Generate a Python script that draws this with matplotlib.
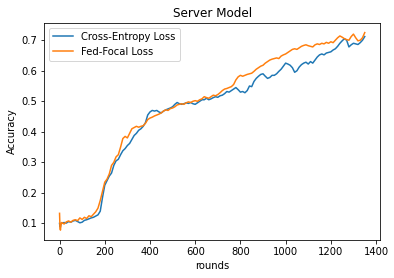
import matplotlib
matplotlib.use("Agg")
import matplotlib.pyplot as plt

rounds = [0, 2, 4, 6, 8] + list(range(10, 1351, 10))

cross_entropy = [
    0.100, 0.090, 0.088, 0.098, 0.102,
    0.100, 0.103, 0.101, 0.106, 0.104, 0.108, 0.110, 0.106, 0.102, 0.104,
    0.110, 0.112, 0.115, 0.118, 0.120, 0.124, 0.128, 0.140, 0.185, 0.225,
    0.240, 0.255, 0.265, 0.290, 0.305, 0.310, 0.325, 0.338, 0.345, 0.355,
    0.362, 0.375, 0.388, 0.395, 0.405, 0.410, 0.418, 0.430, 0.455, 0.465,
    0.470, 0.468, 0.470, 0.465, 0.462, 0.468, 0.472, 0.475, 0.478, 0.482,
    0.490, 0.496, 0.492, 0.490, 0.492, 0.495, 0.493, 0.496, 0.492, 0.490,
    0.495, 0.500, 0.505, 0.505, 0.510, 0.505, 0.508, 0.512, 0.515, 0.513,
    0.518, 0.520, 0.525, 0.532, 0.530, 0.535, 0.540, 0.545, 0.538, 0.530,
    0.532, 0.528, 0.535, 0.550, 0.548, 0.565, 0.575, 0.582, 0.588, 0.590,
    0.582, 0.575, 0.578, 0.585, 0.585, 0.590, 0.598, 0.605, 0.615, 0.625,
    0.622, 0.618, 0.610, 0.595, 0.600, 0.612, 0.620, 0.625, 0.628, 0.622,
    0.630, 0.625, 0.635, 0.645, 0.652, 0.655, 0.652, 0.658, 0.660, 0.662,
    0.668, 0.672, 0.680, 0.690, 0.698, 0.705, 0.700, 0.678, 0.685, 0.690,
    0.688, 0.686, 0.692, 0.700, 0.712,
]

fed_focal = [
    0.133, 0.085, 0.078, 0.095, 0.100,
    0.103, 0.098, 0.105, 0.108, 0.104, 0.110, 0.112, 0.109, 0.118, 0.113,
    0.120, 0.116, 0.125, 0.122, 0.130, 0.138, 0.150, 0.175, 0.205, 0.235,
    0.245, 0.262, 0.290, 0.300, 0.318, 0.325, 0.350, 0.378, 0.385, 0.380,
    0.395, 0.410, 0.414, 0.418, 0.415, 0.418, 0.420, 0.428, 0.440, 0.445,
    0.448, 0.452, 0.455, 0.458, 0.462, 0.468, 0.472, 0.470, 0.476, 0.478,
    0.482, 0.488, 0.490, 0.492, 0.490, 0.495, 0.498, 0.496, 0.500, 0.502,
    0.500, 0.505, 0.508, 0.515, 0.512, 0.510, 0.515, 0.520, 0.518, 0.522,
    0.528, 0.535, 0.540, 0.542, 0.545, 0.548, 0.555, 0.570, 0.580, 0.585,
    0.582, 0.585, 0.588, 0.590, 0.592, 0.598, 0.605, 0.610, 0.615, 0.618,
    0.625, 0.630, 0.635, 0.638, 0.640, 0.642, 0.640, 0.648, 0.652, 0.655,
    0.660, 0.665, 0.670, 0.672, 0.670, 0.675, 0.680, 0.683, 0.685, 0.682,
    0.680, 0.678, 0.685, 0.688, 0.686, 0.690, 0.688, 0.693, 0.690, 0.695,
    0.692, 0.700, 0.708, 0.714, 0.710, 0.705, 0.702, 0.700, 0.712, 0.720,
    0.708, 0.698, 0.700, 0.708, 0.725,
]

series_labels = ["Cross-Entropy Loss", "Fed-Focal Loss"]

dpi = 72
fig = plt.figure(figsize=(394 / dpi, 278 / dpi), dpi=dpi)
ax = fig.add_axes([0.1124, 0.1367, 0.8521, 0.7816])
ax.plot(rounds, cross_entropy, color="#1f77b4", lw=1.5, label=series_labels[0])
ax.plot(rounds, fed_focal, color="#ff7f0e", lw=1.5, label=series_labels[1])
ax.set_xticks([0, 200, 400, 600, 800, 1000, 1200, 1400])
ax.set_yticks([0.1, 0.2, 0.3, 0.4, 0.5, 0.6, 0.7])
ax.set_title("Server Model", fontsize=12)
ax.set_xlabel("rounds")
ax.set_ylabel("Accuracy")
ax.legend(loc="upper left")
fig.savefig("out.png", dpi=dpi)
